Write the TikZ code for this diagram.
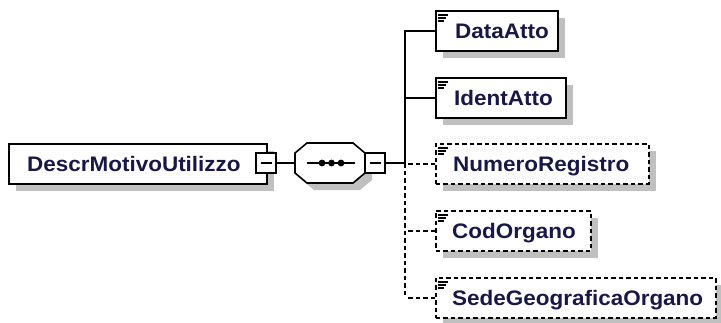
\documentclass[tikz,border=0pt]{standalone}
\usepackage{fontspec}
\newfontfamily\xsdfont[FakeStretch=1.07]{Liberation Sans Bold}
\usetikzlibrary{shadows,calc}
\definecolor{shadowgray}{RGB}{192,192,192}
\definecolor{txtnavy}{RGB}{24,24,70}
\begin{document}
\begin{tikzpicture}[x=1pt,y=-1pt,
 box/.style={draw, line width=1.6pt, fill=white, rectangle, inner sep=0pt, anchor=north west, minimum height=40pt},
 shad/.style={drop shadow={shadow xshift=7pt, shadow yshift=-7pt, fill=shadowgray, opacity=1}},
 opt/.style={dash pattern=on 4.5pt off 3pt},
 lbl/.style={anchor=base west, inner sep=0pt, font=\xsdfont\fontsize{21}{21}\selectfont, text=txtnavy},
 conn/.style={line width=1.6pt},
 pm/.style={draw, fill=white, line width=1.6pt, minimum size=20pt, inner sep=0pt},
 icon/.style={line width=1.3pt},
]
\useasboundingbox (0,0) rectangle (721,322);

% root element
\node[box,shad,minimum width=258pt] (root) at (8,143) {};
\node[lbl] (rootlbl) at ($(root.west)+(19,7.5)$) {DescrMotivoUtilizzo};
\node[pm] (rootpm) at (266,163) {};
\draw[conn] ($(rootpm.center)+(-5.5,0)$) -- ($(rootpm.center)+(5.5,0)$);

% sequence compositor
\coordinate (seqL) at (295,163);
\fill[shadowgray, shift={(7,7)}] (295,153) -- (307,143) -- (353,143) -- (365,153) -- (365,173) -- (353,183) -- (307,183) -- (295,173) -- cycle;
\draw[conn, fill=white] (295,153) -- (307,143) -- (353,143) -- (365,153) -- (365,173) -- (353,183) -- (307,183) -- (295,173) -- cycle;
\draw[conn] (307,163) -- (355,163);
\foreach \dx in {322,331.5,341} \fill (\dx,163) circle (3.4);
\node[pm] (seqpm) at (375,163) {};
\draw[conn] ($(seqpm.center)+(-5.5,0)$) -- ($(seqpm.center)+(5.5,0)$);
\draw[conn] (rootpm.east) -- (seqL);

% trunk
\coordinate (tt) at (405,30);
\coordinate (tj) at (405,163);
\coordinate (tb) at (405,297);
\draw[conn] (seqpm.east) -- (tj);
\draw[conn] (tt) -- (tj);
\draw[conn,opt] (tj) -- (tb);

% children
\node[box,shad,minimum width=122pt] (c1) at (435,10) {};
\node[box,shad,minimum width=130pt] (c2) at (435,77) {};
\node[box,shad,opt,minimum width=213pt] (c3) at (435,143) {};
\node[box,shad,opt,minimum width=155pt] (c4) at (435,210) {};
\node[box,shad,opt,minimum width=280pt] (c5) at (435,277) {};

\node[lbl] (l1) at ($(c1.west)+(20,7.5)$) {DataAtto};
\node[lbl] (l2) at ($(c2.west)+(19,7.5)$) {IdentAtto};
\node[lbl] (l3) at ($(c3.west)+(18,7.5)$) {NumeroRegistro};
\node[lbl] (l4) at ($(c4.west)+(17,7.5)$) {CodOrgano};
\node[lbl] (l5) at ($(c5.west)+(17,7.5)$) {SedeGeograficaOrgano};

\foreach \n in {c1,c2,c3,c4,c5} {
  \draw[icon] ($(\n.north west)+(3,5)$) -- ++(10,0)
              ($(\n.north west)+(3,8)$) -- ++(8,0)
              ($(\n.north west)+(3,11)$) -- ++(6,0);
}

\draw[conn] (c1.west) -- (c1.west -| tj);
\draw[conn] (c2.west) -- (c2.west -| tj);
\draw[conn,opt] (c3.west) -- (c3.west -| tj);
\draw[conn,opt] (c4.west) -- (c4.west -| tj);
\draw[conn,opt] (c5.west) -- (c5.west -| tj);
\end{tikzpicture}
\end{document}
